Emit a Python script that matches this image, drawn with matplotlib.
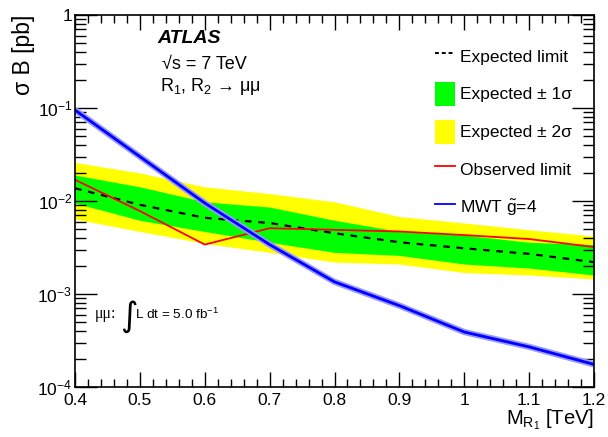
import numpy as np
import matplotlib.pyplot as plt
from matplotlib.ticker import MultipleLocator, LogLocator, NullFormatter, FixedLocator
from matplotlib.lines import Line2D
from matplotlib.patches import Patch

plt.rcParams['font.family'] = ['Liberation Sans', 'DejaVu Sans']
plt.rcParams['mathtext.fontset'] = 'custom'
plt.rcParams['mathtext.rm'] = 'Liberation Sans'
plt.rcParams['mathtext.it'] = 'Liberation Sans:italic'

mass = [0.4, 0.5, 0.6, 0.7, 0.8, 0.9, 1.0, 1.1, 1.2]
expected = [0.0137, 0.0091, 0.0066, 0.0058, 0.0045, 0.0036, 0.0031, 0.0027, 0.0022]
exp_1s_hi = [0.019, 0.0142, 0.0098, 0.0086, 0.0062, 0.0047, 0.0043, 0.0036, 0.0034]
exp_1s_lo = [0.0095, 0.0062, 0.0047, 0.0036, 0.0028, 0.0026, 0.0021, 0.0019, 0.0016]
exp_2s_hi = [0.026, 0.020, 0.0142, 0.012, 0.0098, 0.0068, 0.0058, 0.0049, 0.0042]
exp_2s_lo = [0.0064, 0.0047, 0.0035, 0.0028, 0.0022, 0.0021, 0.0017, 0.0016, 0.00145]
observed = [0.0169, 0.0078, 0.0034, 0.0051, 0.0049, 0.0047, 0.0043, 0.0039, 0.0032]
mwt = [0.095, 0.030, 0.0095, 0.0034, 0.00135, 0.00075, 0.00039, 0.00027, 0.000175]

fig = plt.figure(figsize=(6.08, 4.37), dpi=100)
ax = fig.add_axes([0.1234, 0.1144, 0.8536, 0.8513])

ax.fill_between(mass, exp_2s_lo, exp_2s_hi, color='#ffff00', lw=0)
ax.fill_between(mass, exp_1s_lo, exp_1s_hi, color='#00ff00', lw=0)
ax.plot(mass, expected, color='black', ls=(0, (3, 3)), lw=1.6)
ax.plot(mass, observed, color='#ff0000', lw=1.3)
ax.plot(mass, mwt, color='#9999ff', lw=4.5, solid_capstyle='butt')
ax.plot(mass, mwt, color='#0000ff', lw=2, solid_capstyle='butt')

ax.set_yscale('log')
ax.set_xlim(0.4, 1.2)
ax.set_ylim(1e-4, 1)

xt = [0.4, 0.5, 0.6, 0.7, 0.8, 0.9, 1.0, 1.1, 1.2]
ax.xaxis.set_major_locator(FixedLocator(xt))
ax.xaxis.set_minor_locator(MultipleLocator(0.02))
ax.set_xticklabels(['0.4', '0.5', '0.6', '0.7', '0.8', '0.9', '1', '1.1', '1.2'])
ax.yaxis.set_minor_locator(LogLocator(base=10, subs=np.arange(2, 10), numticks=10))
ax.yaxis.set_minor_formatter(NullFormatter())
ax.set_yticks([1e-4, 1e-3, 1e-2, 1e-1, 1])
ax.set_yticklabels([r'$10^{-4}$', r'$10^{-3}$', r'$10^{-2}$', r'$10^{-1}$', '1'])

ax.tick_params(which='both', direction='in', top=True, right=True, labelsize=12.5, width=1)
ax.tick_params(axis='x', which='major', length=11, pad=4)
ax.tick_params(axis='x', which='minor', length=5.5)
ax.tick_params(axis='y', which='major', length=16, pad=2)
ax.tick_params(axis='y', which='minor', length=8)
for s in ax.spines.values():
    s.set_linewidth(1.2)

ax.set_ylabel('σ B [pb]', fontsize=16.5, loc='top')
ax.yaxis.set_label_coords(-0.077, 1.0)
ax.set_xlabel(r'M$_{\mathregular{R}_1}$ [TeV]', fontsize=14.5, loc='right', labelpad=0)

ax.text(0.158, 0.938, 'ATLAS', transform=ax.transAxes, fontsize=14,
        fontweight='bold', fontstyle='italic', va='center')
ax.text(0.168, 0.868, '√s = 7 TeV', transform=ax.transAxes, fontsize=13, va='center')
ax.text(0.163, 0.808, r'R$_1$, R$_2$ → μμ', transform=ax.transAxes, fontsize=13, va='center')

ax.text(0.038, 0.195, 'μμ:', transform=ax.transAxes, fontsize=11.5, va='center',
        family='Liberation Serif')
ax.text(0.086, 0.19, r'$\int$', transform=ax.transAxes, fontsize=17, va='center',
        math_fontfamily='dejavusans')
ax.text(0.115, 0.195, r'L dt = 5.0 fb$^{-1}$', transform=ax.transAxes, fontsize=9.7, va='center')

handles = [
    Line2D([], [], color='black', ls=(0, (2, 1.5)), lw=1.4),
    Patch(facecolor='#00ff00', edgecolor='none'),
    Patch(facecolor='#ffff00', edgecolor='none'),
    Line2D([], [], color='#ff0000', lw=1.3),
    Line2D([], [], color='#0000ff', lw=1.3),
]
labels = ['Expected limit', 'Expected ± 1σ', 'Expected ± 2σ',
          'Observed limit', r'MWT $\tilde{\mathregular{g}}$=4']
ax.legend(handles, labels, loc='upper left', bbox_to_anchor=(0.67, 0.955), frameon=False,
          fontsize=12.5, handlelength=1.15, handleheight=1.75, labelspacing=0.8,
          handletextpad=0.3, borderpad=0.2)

fig.savefig('out.png', dpi=100)
